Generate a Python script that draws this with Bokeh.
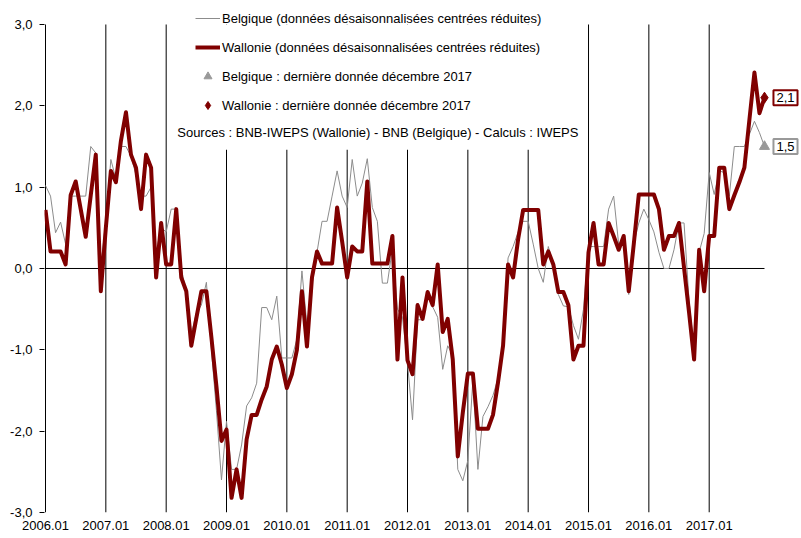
from bokeh.plotting import figure
from bokeh.models import FixedTicker, Range1d, Legend, LegendItem, Label, BoxAnnotation
from bokeh.embed import file_html
from bokeh.resources import INLINE

# ---- data -------------------------------------------------------------
years = list(range(2006, 2018))
months = [f"{y}.{m:02d}" for y in years for m in range(1, 13)]

belgique = [
    1.02, 0.89, 0.44, 0.57, 0.30, 0.89, 0.89, 0.89, 0.89, 1.50, 1.42, 0.00,
    0.60, 1.34, 1.10, 1.50, 1.50, 1.38, 1.15, 0.89, 0.89, 1.00, 0.20, 0.50,
    0.45, 0.73, 0.73, 0.00, -0.30, -0.80, -0.55, -0.45, -0.17, -1.00, -1.75, -2.60,
    -1.88, -2.47, -2.47, -2.17, -1.69, -1.59, -1.41, -0.48, -0.48, -0.63, -0.34, -1.10,
    -1.10, -1.10, -0.87, -0.03, -0.70, -0.20, 0.20, 0.58, 0.58, 0.89, 1.20, 0.89,
    0.75, 1.34, 0.89, 1.05, 1.35, 0.75, 0.58, -0.18, -0.18, 0.25, -0.50, -0.60,
    -1.16, -1.86, -0.63, -0.63, -0.30, -0.47, -0.60, -1.24, -0.95, -1.07, -2.47, -2.61,
    -2.36, -1.37, -2.47, -1.82, -1.70, -1.56, -1.35, -0.95, 0.13, 0.27, 0.45, 0.58,
    0.58, 0.30, 0.00, -0.17, 0.27, 0.05, -0.32, -0.46, -0.47, -0.70, -0.87, -0.50,
    0.27, 0.27, 0.27, 0.27, 0.73, 0.89, 0.30, 0.30, -0.32, 0.30, 0.56, 0.73,
    0.60, 0.45, 0.20, 0.00, 0.00, 0.23, 0.56, 0.56, -0.40, -1.00, 0.20, 0.43,
    1.18, 0.91, 1.20, 1.18, 0.89, 1.50, 1.50, 1.50, 1.65, 1.81, 1.67, 1.50,
]

wallonie = [
    0.72, 0.21, 0.21, 0.21, 0.05, 0.90, 1.07, 0.73, 0.39, 0.90, 1.40, -0.28,
    0.50, 1.20, 1.06, 1.57, 1.92, 1.40, 1.24, 0.73, 1.40, 1.24, -0.11, 0.56,
    0.05, 0.05, 0.73, -0.11, -0.28, -0.95, -0.61, -0.28, -0.28, -0.85, -1.45, -2.12,
    -1.98, -2.82, -2.47, -2.82, -2.10, -1.80, -1.80, -1.61, -1.45, -1.12, -0.96, -1.18,
    -1.47, -1.30, -1.00, -0.28, -0.96, -0.11, 0.21, 0.06, 0.06, 0.06, 0.75, 0.33,
    -0.11, 0.27, 0.21, 0.21, 1.07, 0.06, 0.06, 0.06, 0.06, 0.40, -1.12, -0.11,
    -1.13, -1.30, -0.45, -0.62, -0.29, -0.45, 0.05, -0.78, -0.62, -1.12, -2.31, -1.77,
    -1.29, -1.29, -1.97, -1.97, -1.97, -1.80, -1.40, -0.95, 0.05, -0.11, 0.36, 0.72,
    0.72, 0.72, 0.72, 0.05, 0.21, 0.05, -0.29, -0.29, -0.45, -1.12, -0.95, -0.95,
    0.20, 0.56, 0.05, 0.05, 0.56, 0.40, 0.23, 0.40, -0.28, 0.30, 0.91, 0.91,
    0.91, 0.91, 0.73, 0.23, 0.40, 0.40, 0.56, 0.01, -0.54, -1.12, 0.23, -0.28,
    0.40, 0.40, 1.24, 1.24, 0.73, 0.90, 1.06, 1.24, 1.83, 2.41, 1.91, 2.10,
]

belgique_last = [1.5]
wallonie_last = [2.1]

y_ticks = [-3, -2, -1, 0, 1, 2, 3]
y_tick_labels = ["-3,0", "-2,0", "-1,0", "0,0", "1,0", "2,0", "3,0"]

label_bel_line = "Belgique (données désaisonnalisées centrées réduites)"
label_wal_line = "Wallonie (données désaisonnalisées centrées réduites)"
label_bel_last = "Belgique : dernière donnée décembre 2017"
label_wal_last = "Wallonie : dernière donnée décembre 2017"
sources = "Sources : BNB-IWEPS (Wallonie) - BNB (Belgique) - Calculs : IWEPS"

# ---- figure -----------------------------------------------------------
FONT = "Liberation Sans"
RED = "#800000"
GREY = "#8c8c8c"
MARK_GREY = "#999999"

x = list(range(len(months)))
year_idx = x[::12]
year_labels = {i: months[i] for i in year_idx}

p = figure(width=801, height=538, output_backend="svg", toolbar_location=None,
           x_range=Range1d(-0.2, 150.36), y_range=Range1d(-3, 3.295),
           min_border_left=44, min_border_right=0, min_border_top=0,
           min_border_bottom=26)
p.outline_line_color = None
p.background_fill_color = "white"
p.border_fill_color = "white"

# x axis (labels only)
xa = p.xaxis[0]
xa.ticker = FixedTicker(ticks=year_idx)
xa.major_label_overrides = year_labels
xa.axis_line_color = None
xa.major_tick_line_color = None
xa.minor_tick_line_color = None
xa.major_tick_out = 0
xa.major_tick_in = 0
xa.major_label_standoff = 8
xa.major_label_text_font = FONT
xa.major_label_text_font_size = "13px"
xa.major_label_text_color = "black"

# y axis (ticks + labels; the line itself is drawn as a segment)
ya = p.yaxis[0]
ya.ticker = FixedTicker(ticks=y_ticks)
ya.major_label_overrides = dict(zip(y_ticks, y_tick_labels))
ya.axis_line_color = None
ya.major_tick_line_color = "black"
ya.minor_tick_line_color = None
ya.major_tick_out = 5
ya.major_tick_in = 0
ya.major_label_standoff = 7
ya.major_label_text_font = FONT
ya.major_label_text_font_size = "13px"
ya.major_label_text_color = "black"

p.xgrid.grid_line_color = None
p.ygrid.grid_line_color = None

# vertical year lines
p.segment(x0=year_idx[1:], x1=year_idx[1:],
          y0=[y_ticks[0]] * len(year_idx[1:]), y1=[y_ticks[-1]] * len(year_idx[1:]),
          line_color="black", line_width=1)

# white legend background covering the year lines
p.add_layout(BoxAnnotation(left=25.5, right=106.5, bottom=1.46, top=y_ticks[-1],
                           fill_color="white", fill_alpha=1.0,
                           line_color=None, level="glyph"))

# y axis line and zero line (category axis)
p.segment(x0=[x[0]], x1=[x[0]], y0=[y_ticks[0]], y1=[y_ticks[-1]],
          line_color="black", line_width=1)
p.segment(x0=[x[0]], x1=[x[-1]], y0=[0], y1=[0], line_color="black", line_width=1)

r_bel = p.line(x, belgique, line_color=GREY, line_width=1)
r_wal = p.line(x, wallonie, line_color=RED, line_width=4, line_join="round")
r_tri = p.scatter([x[-1]], belgique_last, marker="triangle", size=10,
                  fill_color=MARK_GREY, line_color=MARK_GREY)
r_dia = p.scatter([x[-1]], wallonie_last, marker="diamond", size=11,
                  fill_color=RED, line_color=RED)

legend = Legend(items=[
    LegendItem(label=label_bel_line, renderers=[r_bel]),
    LegendItem(label=label_wal_line, renderers=[r_wal]),
    LegendItem(label=label_bel_last, renderers=[r_tri]),
    LegendItem(label=label_wal_last, renderers=[r_dia]),
], location=(151, 397), orientation="vertical",
   background_fill_alpha=0, border_line_color=None,
   label_text_font=FONT, label_text_font_size="13px", label_text_color="black",
   glyph_width=25, glyph_height=20, label_height=20, spacing=9,
   padding=0, margin=0, label_standoff=2)
p.add_layout(legend, "center")

p.add_layout(Label(x=26.2, y=1.672, text=sources, text_font=FONT,
                   text_font_size="13px", text_color="black",
                   text_align="left", text_baseline="middle"))

for val, col in ((wallonie_last[0], RED), (belgique_last[0], MARK_GREY)):
    p.add_layout(Label(x=x[-1], y=val, x_offset=21,
                       text=f"{val:.1f}".replace(".", ","),
                       text_font=FONT, text_font_size="13px", text_color="black",
                       text_align="center", text_baseline="middle",
                       background_fill_color="white", border_line_color=col,
                       border_line_width=2, padding=3))

open("out.html", "w").write(file_html(p, INLINE))
